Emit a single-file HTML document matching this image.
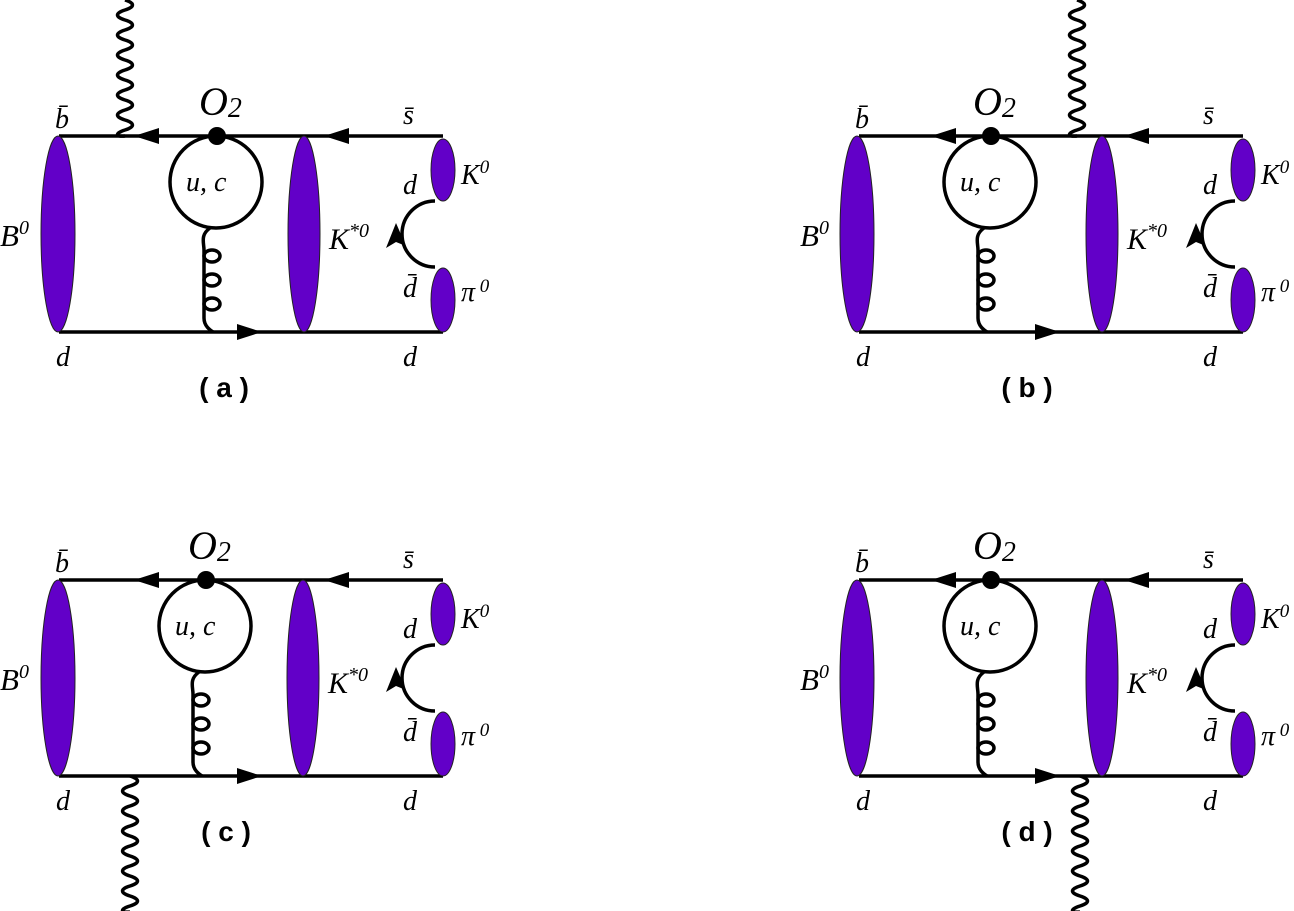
<!DOCTYPE html>
<html><head><meta charset="utf-8"><style>
html,body{margin:0;padding:0;background:#fff;}
svg{display:block}
.t{font-family:"Liberation Serif",serif;font-style:italic;fill:#000}
.p{font-family:"Liberation Sans","Noto Sans CJK SC",sans-serif;font-weight:bold;fill:#000}
</style></head><body>
<svg width="1294" height="911" viewBox="0 0 1294 911" xmlns="http://www.w3.org/2000/svg">

<!-- ========== (a) ========== -->
<g transform="translate(0,0)">
 <g stroke="#000" stroke-width="3.5" fill="none">
  <path d="M59 136H443M59 332H443"/>
  <path d="M435 201A33 33 0 0 0 435 267"/>
 </g>
 <g fill="#6200c8" stroke="#222" stroke-width="1">
  <ellipse cx="58" cy="234" rx="17" ry="98"/>
  <ellipse cx="304" cy="234" rx="16" ry="98"/>
  <ellipse cx="443" cy="170" rx="12" ry="31"/>
  <ellipse cx="443" cy="300" rx="12" ry="32"/>
 </g>
 <g fill="#000">
  <path d="M324 136L349 128L349 144Z"/>
  <path d="M262 332L237 324L237 340Z"/>
  <path d="M396 223L386 248L396 242L406 246Z"/>
 </g>
 <text class="t" x="55" y="128" font-size="28">b̄</text>
 <text class="t" x="403" y="124" font-size="28">s̄</text>
 <text class="t" x="403" y="194" font-size="28">d</text>
 <text class="t" x="461" y="184" font-size="28">K<tspan font-size="19" dy="-11">0</tspan></text>
 <text class="t" x="0" y="246" font-size="31">B<tspan font-size="20" dy="-12">0</tspan></text>
 <text class="t" x="329" y="249" font-size="30">K<tspan font-size="20" dy="-12">*0</tspan></text>
 <text class="t" x="403" y="297" font-size="28">d̄</text>
 <text class="t" x="461" y="301" font-size="28">π<tspan font-size="19" dy="-9"> 0</tspan></text>
 <text class="t" x="56" y="366" font-size="28">d</text>
 <text class="t" x="403" y="366" font-size="28">d</text>
 <g stroke="#000" stroke-width="3.5" fill="none">
  <circle cx="216" cy="182" r="46"/>
  <path d="M210 228C200 235 204 243 204 250V318C204 326 210 330 213 332"/>
  <ellipse cx="212" cy="256" rx="8" ry="6"/>
  <ellipse cx="212" cy="280" rx="8" ry="6"/>
  <ellipse cx="212" cy="304" rx="8" ry="6"/>
  <path d="M125 0c10 3 10 7 0 10c-10 3 -10 7 0 10c10 3 10 7 0 10c-10 3 -10 7 0 10c10 3 10 7 0 10c-10 3 -10 7 0 10c10 3 10 7 0 10c-10 3 -10 7 0 10c10 3 10 7 0 10c-10 3 -10 7 0 10c10 3 10 7 0 10c-10 3 -10 7 0 10c10 3 10 7 0 10c-10 3 -10 7 0 6"/>
 </g>
 <circle cx="217" cy="136" r="9" fill="#000"/>
 <path d="M134 136L159 128L159 144Z" fill="#000"/>
 <text class="t" x="199" y="115" font-size="40">O<tspan font-size="28" dy="2">2</tspan></text>
 <text class="t" x="186" y="191" font-size="28">u, c</text>
 <text class="p" x="224" y="397" font-size="28" text-anchor="middle">( a )</text>
</g>

<!-- ========== (b) ========== -->
<g transform="translate(800,0)">
 <g stroke="#000" stroke-width="3.5" fill="none">
  <path d="M59 136H443M59 332H443"/>
  <path d="M435 201A33 33 0 0 0 435 267"/>
 </g>
 <g fill="#6200c8" stroke="#222" stroke-width="1">
  <ellipse cx="57" cy="234" rx="17" ry="98"/>
  <ellipse cx="302" cy="234" rx="16" ry="98"/>
  <ellipse cx="443" cy="170" rx="12" ry="31"/>
  <ellipse cx="443" cy="300" rx="12" ry="32"/>
 </g>
 <g fill="#000">
  <path d="M324 136L349 128L349 144Z"/>
  <path d="M260 332L235 324L235 340Z"/>
  <path d="M396 223L386 248L396 242L406 246Z"/>
 </g>
 <text class="t" x="55" y="128" font-size="28">b̄</text>
 <text class="t" x="403" y="124" font-size="28">s̄</text>
 <text class="t" x="403" y="194" font-size="28">d</text>
 <text class="t" x="461" y="184" font-size="28">K<tspan font-size="19" dy="-11">0</tspan></text>
 <text class="t" x="0" y="246" font-size="31">B<tspan font-size="20" dy="-12">0</tspan></text>
 <text class="t" x="327" y="249" font-size="30">K<tspan font-size="20" dy="-12">*0</tspan></text>
 <text class="t" x="403" y="297" font-size="28">d̄</text>
 <text class="t" x="461" y="301" font-size="28">π<tspan font-size="19" dy="-9"> 0</tspan></text>
 <text class="t" x="56" y="366" font-size="28">d</text>
 <text class="t" x="403" y="366" font-size="28">d</text>
 <g stroke="#000" stroke-width="3.5" fill="none">
  <circle cx="190" cy="182" r="46"/>
  <path d="M184 228C174 235 178 243 178 250V318C178 326 184 330 187 332"/>
  <ellipse cx="186" cy="256" rx="8" ry="6"/>
  <ellipse cx="186" cy="280" rx="8" ry="6"/>
  <ellipse cx="186" cy="304" rx="8" ry="6"/>
  <path d="M277 0c10 3 10 7 0 10c-10 3 -10 7 0 10c10 3 10 7 0 10c-10 3 -10 7 0 10c10 3 10 7 0 10c-10 3 -10 7 0 10c10 3 10 7 0 10c-10 3 -10 7 0 10c10 3 10 7 0 10c-10 3 -10 7 0 10c10 3 10 7 0 10c-10 3 -10 7 0 10c10 3 10 7 0 10c-10 3 -10 7 0 6"/>
 </g>
 <circle cx="191" cy="136" r="9" fill="#000"/>
 <path d="M131 136L156 128L156 144Z" fill="#000"/>
 <text class="t" x="173" y="115" font-size="40">O<tspan font-size="28" dy="2">2</tspan></text>
 <text class="t" x="160" y="191" font-size="28">u, c</text>
 <text class="p" x="227" y="397" font-size="28" text-anchor="middle">( b )</text>
</g>

<!-- ========== (c) ========== -->
<g transform="translate(0,444)">
 <g stroke="#000" stroke-width="3.5" fill="none">
  <path d="M59 136H443M59 332H443"/>
  <path d="M435 201A33 33 0 0 0 435 267"/>
 </g>
 <g fill="#6200c8" stroke="#222" stroke-width="1">
  <ellipse cx="58" cy="234" rx="17" ry="98"/>
  <ellipse cx="303" cy="234" rx="16" ry="98"/>
  <ellipse cx="443" cy="170" rx="12" ry="31"/>
  <ellipse cx="443" cy="300" rx="12" ry="32"/>
 </g>
 <g fill="#000">
  <path d="M324 136L349 128L349 144Z"/>
  <path d="M262 332L237 324L237 340Z"/>
  <path d="M396 223L386 248L396 242L406 246Z"/>
 </g>
 <text class="t" x="55" y="128" font-size="28">b̄</text>
 <text class="t" x="403" y="124" font-size="28">s̄</text>
 <text class="t" x="403" y="194" font-size="28">d</text>
 <text class="t" x="461" y="184" font-size="28">K<tspan font-size="19" dy="-11">0</tspan></text>
 <text class="t" x="0" y="246" font-size="31">B<tspan font-size="20" dy="-12">0</tspan></text>
 <text class="t" x="328" y="249" font-size="30">K<tspan font-size="20" dy="-12">*0</tspan></text>
 <text class="t" x="403" y="297" font-size="28">d̄</text>
 <text class="t" x="461" y="301" font-size="28">π<tspan font-size="19" dy="-9"> 0</tspan></text>
 <text class="t" x="56" y="366" font-size="28">d</text>
 <text class="t" x="403" y="366" font-size="28">d</text>
 <g stroke="#000" stroke-width="3.5" fill="none">
  <circle cx="205" cy="182" r="46"/>
  <path d="M199 228C189 235 193 243 193 250V318C193 326 199 330 202 332"/>
  <ellipse cx="201" cy="256" rx="8" ry="6"/>
  <ellipse cx="201" cy="280" rx="8" ry="6"/>
  <ellipse cx="201" cy="304" rx="8" ry="6"/>
  <path d="M130 332c10 3 10 7 0 10c-10 3 -10 7 0 10c10 3 10 7 0 10c-10 3 -10 7 0 10c10 3 10 7 0 10c-10 3 -10 7 0 10c10 3 10 7 0 10c-10 3 -10 7 0 10c10 3 10 7 0 10c-10 3 -10 7 0 10c10 3 10 7 0 10c-10 3 -10 7 0 10c10 3 10 7 0 10c-10 3 -10 7 0 6"/>
 </g>
 <circle cx="206" cy="136" r="9" fill="#000"/>
 <path d="M134 136L159 128L159 144Z" fill="#000"/>
 <text class="t" x="188" y="115" font-size="40">O<tspan font-size="28" dy="2">2</tspan></text>
 <text class="t" x="175" y="191" font-size="28">u, c</text>
 <text class="p" x="226" y="397" font-size="28" text-anchor="middle">( c )</text>
</g>

<!-- ========== (d) ========== -->
<g transform="translate(800,444)">
 <g stroke="#000" stroke-width="3.5" fill="none">
  <path d="M59 136H443M59 332H443"/>
  <path d="M435 201A33 33 0 0 0 435 267"/>
 </g>
 <g fill="#6200c8" stroke="#222" stroke-width="1">
  <ellipse cx="57" cy="234" rx="17" ry="98"/>
  <ellipse cx="302" cy="234" rx="16" ry="98"/>
  <ellipse cx="443" cy="170" rx="12" ry="31"/>
  <ellipse cx="443" cy="300" rx="12" ry="32"/>
 </g>
 <g fill="#000">
  <path d="M324 136L349 128L349 144Z"/>
  <path d="M260 332L235 324L235 340Z"/>
  <path d="M396 223L386 248L396 242L406 246Z"/>
 </g>
 <text class="t" x="55" y="128" font-size="28">b̄</text>
 <text class="t" x="403" y="124" font-size="28">s̄</text>
 <text class="t" x="403" y="194" font-size="28">d</text>
 <text class="t" x="461" y="184" font-size="28">K<tspan font-size="19" dy="-11">0</tspan></text>
 <text class="t" x="0" y="246" font-size="31">B<tspan font-size="20" dy="-12">0</tspan></text>
 <text class="t" x="327" y="249" font-size="30">K<tspan font-size="20" dy="-12">*0</tspan></text>
 <text class="t" x="403" y="297" font-size="28">d̄</text>
 <text class="t" x="461" y="301" font-size="28">π<tspan font-size="19" dy="-9"> 0</tspan></text>
 <text class="t" x="56" y="366" font-size="28">d</text>
 <text class="t" x="403" y="366" font-size="28">d</text>
 <g stroke="#000" stroke-width="3.5" fill="none">
  <circle cx="190" cy="182" r="46"/>
  <path d="M184 228C174 235 178 243 178 250V318C178 326 184 330 187 332"/>
  <ellipse cx="186" cy="256" rx="8" ry="6"/>
  <ellipse cx="186" cy="280" rx="8" ry="6"/>
  <ellipse cx="186" cy="304" rx="8" ry="6"/>
  <path d="M280 332c10 3 10 7 0 10c-10 3 -10 7 0 10c10 3 10 7 0 10c-10 3 -10 7 0 10c10 3 10 7 0 10c-10 3 -10 7 0 10c10 3 10 7 0 10c-10 3 -10 7 0 10c10 3 10 7 0 10c-10 3 -10 7 0 10c10 3 10 7 0 10c-10 3 -10 7 0 10c10 3 10 7 0 10c-10 3 -10 7 0 6"/>
 </g>
 <circle cx="191" cy="136" r="9" fill="#000"/>
 <path d="M131 136L156 128L156 144Z" fill="#000"/>
 <text class="t" x="173" y="115" font-size="40">O<tspan font-size="28" dy="2">2</tspan></text>
 <text class="t" x="160" y="191" font-size="28">u, c</text>
 <text class="p" x="227" y="397" font-size="28" text-anchor="middle">( d )</text>
</g>
</svg>
</body></html>
